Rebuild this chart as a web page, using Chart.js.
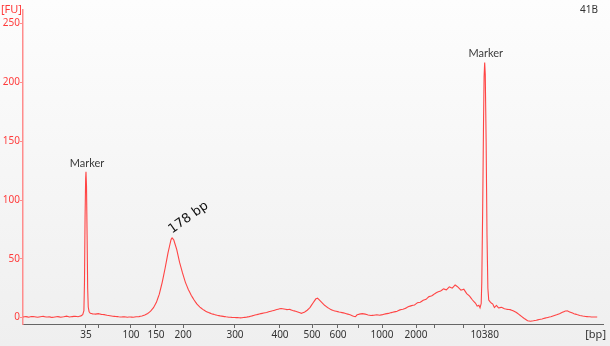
<!DOCTYPE html>
<html>
<head>
<meta charset="utf-8">
<script src="https://cdn.jsdelivr.net/npm/chart.js@4/dist/chart.umd.min.js"></script>
<style>
html, body { margin: 0; padding: 0; background: #f3f3f3; }
</style>
</head>
<body>
<canvas id="graph_electropherogram" width="610" height="346"></canvas>
<script>
// sample 41B, migration time [s] vs fluorescence [FU]
var trace = [
	[30, 0.6], [30.5, 0.9], [31, 0.4], [31.5, 1.0], [32, 0.7], [32.5, 0.3], [33, 0.8], [33.5, 1.1],
	[34, 0.5], [34.5, 0.7], [35, 0.2], [35.5, 0.6], [36, 0.9], [36.5, 0.4], [37, 0.8], [37.5, 1.3],
	[38, 0.6], [38.5, 0.9], [39, 1.2], [39.5, 0.8], [40, 1.5], [40.3, 2.5],
	// lower marker
	[40.5, 6], [40.6, 30], [40.7, 85], [40.8, 118], [40.86, 124], [40.95, 112], [41.05, 70],
	[41.15, 25], [41.25, 9], [41.4, 5], [41.6, 3.8],
	[42, 3.2], [42.5, 3.0], [43, 3.4], [43.5, 2.8], [44, 2.6], [44.5, 2.0], [45, 1.6], [45.5, 1.2],
	[46, 1.0], [46.5, 0.7], [47, 0.5], [47.5, 0.8], [48, 0.4], [48.5, 0.6], [49, 0.3], [49.5, 0.7],
	[50, 0.9], [50.5, 1.4], [51, 2.2], [51.5, 3.5], [52, 5.5], [52.5, 8.5], [53, 13], [53.5, 20],
	// library peak
	[54, 30], [54.5, 42], [55, 55], [55.5, 66], [55.7, 68], [56, 66], [56.5, 58], [57, 47],
	[57.5, 38], [58, 30], [58.5, 24], [59, 19], [59.5, 15], [60, 11.5], [60.5, 9], [61, 7],
	[61.5, 5.5], [62, 4.3], [62.5, 3.4], [63, 2.6], [63.5, 2.0], [64, 1.5], [64.5, 1.1], [65, 0.7],
	[65.5, 0.4], [66, 0.2], [66.5, 0.1], [67, 0.0], [67.5, -0.2], [68, 0.1], [68.5, 0.4], [69, 0.9],
	[69.5, 1.5], [70, 2.2], [70.5, 2.8], [71, 3.4], [71.5, 3.9], [72, 4.4], [72.5, 5.2], [73, 5.8],
	[73.5, 6.5], [74, 7.2], [74.5, 7.8], [75, 7.4], [75.5, 6.8], [76, 7.0], [76.5, 6.1], [77, 5.4],
	[77.5, 4.6], [78, 3.7], [78.5, 4.5], [79, 6.3], [79.5, 8.8], [80, 12.5], [80.5, 16], [80.8, 16.5],
	[81, 15.5], [81.5, 13], [82, 10.5], [82.5, 8.6], [83, 7.2], [83.5, 6.0], [84, 5.4], [84.5, 4.8],
	[85, 4.3], [85.5, 3.8], [86, 3.0], [86.5, 2.2], [87, 1.2], [87.3, 0.8], [87.6, 2.4], [88, 3.0],
	[88.5, 3.4], [89, 3.0], [89.5, 2.3], [90, 1.8], [90.5, 2.0], [91, 2.4], [91.5, 2.1], [92, 2.6],
	[92.5, 3.2], [93, 3.6], [93.5, 4.3], [94, 4.9], [94.5, 5.4], [95, 6.6], [95.5, 7.2], [96, 8.1],
	[96.5, 9.4], [97, 10.2], [97.5, 10.8], [98, 12.6], [98.5, 13.1], [99, 14.8], [99.5, 15.6], [100, 17.9],
	[100.5, 18.6], [101, 20.4], [101.5, 21.8], [102, 22.6], [102.5, 24.5], [103, 23.6], [103.5, 26.2],
	[104, 25.1], [104.5, 27.8], [105, 26.0], [105.5, 23.4], [106, 24.2], [106.5, 20.5], [107, 18.3],
	[107.5, 15.0], [108, 12.4], [108.3, 9.8], [108.6, 10.6], [108.8, 8.4], [109, 12],
	// upper marker
	[109.1, 30], [109.25, 90], [109.4, 165], [109.5, 205], [109.6, 217], [109.7, 207], [109.85, 150],
	[110, 70], [110.15, 25], [110.3, 15],
	[110.6, 13], [111, 11.5], [111.3, 8.5], [111.6, 10.6], [112, 8.2], [112.5, 8.8], [113, 7.6],
	[113.5, 7.0], [114, 6.8], [114.5, 5.8], [115, 4.6], [115.5, 2.8], [116, 0.9], [116.5, -1.0],
	[117, -2.6], [117.5, -3.0], [118, -2.7], [118.5, -2.2], [119, -1.6], [119.5, -1.2], [120, -0.4],
	[120.5, 0.2], [121, 0.8], [121.5, 1.6], [122, 2.4], [122.5, 3.4], [123, 4.6], [123.5, 5.6],
	[123.8, 5.8], [124, 5.4], [124.5, 4.4], [125, 3.4], [125.5, 2.6], [126, 1.9], [126.5, 1.4],
	[127, 1.0], [127.5, 0.8], [128, 0.6], [128.5, 0.5], [129, 0.5]
];

// ladder sizes and where they run
var ladderTimes = [40.86, 43.10, 48.62, 52.93, 57.59, 66.55, 74.31, 79.83, 84.31, 87.76, 91.90, 97.76, 101.03, 106.03, 109.6];
var ladderLabels = ['35', '', '100', '150', '200', '300', '400', '500', '600', '', '1000', '2000', '', '', '10380'];
var fuTicks = [0, 50, 100, 150, 200, 250];

// annotated peaks
var markerTimes = [40.86, 109.6];
var markerFU = [124, 217];
var samplePeakTime = 55.7;
var samplePeakFU = 68;
var samplePeakText = '178 bp';
var sampleName = '41B';

var jhwBackground = {
	id: 'jhwBackground',
	beforeDraw: function (chart) {
		var c = chart.ctx
		var g = c.createLinearGradient(0, 0, 0, chart.height)
		g.addColorStop(0, '#fdfdfd')
		g.addColorStop(1, '#efefef')
		c.save()
		c.fillStyle = g
		c.fillRect(0, 0, chart.width, chart.height)
		c.restore()
	}
};

var jhwPeakLabels = {
	id: 'jhwPeakLabels',
	afterDatasetsDraw: function (chart) {
		var c = chart.ctx
		var x = chart.scales.x
		var y = chart.scales.y
		c.save()

		// ladder markers
		c.font = '11px Lato'
		c.fillStyle = '#3a3a3a'
		c.textAlign = 'center'
		c.textBaseline = 'alphabetic'
		for (i = 0; i < markerTimes.length; i++) {
			c.fillText('Marker', x.getPixelForValue(markerTimes[i]) + 1, y.getPixelForValue(markerFU[i]) - 5)
		}

		// sample peak size, tilted
		c.save()
		c.translate(x.getPixelForValue(samplePeakTime), y.getPixelForValue(samplePeakFU) - 4)
		c.rotate(-0.62)
		c.font = '13px "DejaVu Sans"'
		c.fillStyle = '#111'
		c.textAlign = 'left'
		c.fillText(samplePeakText, 0, 0)
		c.restore()

		// axis units and sample name
		c.font = '11px "Noto Sans"'
		c.fillStyle = '#ff3b3b'
		c.textAlign = 'left'
		c.textBaseline = 'middle'
		c.fillText('[FU]', 1, 10)
		c.fillStyle = '#333'
		c.textAlign = 'right'
		c.fillText('[bp]', 606, 335)
		c.font = '10px "Noto Sans"'
		c.textAlign = 'center'
		c.fillText(sampleName, 589, 10)
		c.restore()
	}
};

window.jhwElectropherogram = new Chart(document.getElementById('graph_electropherogram'), {
	type: 'line',
	data: {
		datasets: [{
			data: trace.map(function (p) { return { x: p[0], y: p[1] } }),
			borderColor: '#ff4444',
			borderWidth: 1.1,
			pointRadius: 0,
			// a tiny tension keeps chart.js off its fast path, which smears the narrow marker peaks
			tension: 0.0001,
			fill: false
		}]
	},
	options: {
		responsive: false,
		animation: false,
		devicePixelRatio: 1,
		events: [],
		layout: { padding: { top: 10, right: 7, left: 0, bottom: 0 } },
		plugins: {
			legend: { display: false },
			tooltip: { enabled: false }
		},
		scales: {
			x: {
				type: 'linear',
				min: 30,
				max: 130,
				afterBuildTicks: function (s) {
					s.ticks = ladderTimes.map(function (v) { return { value: v } })
				},
				afterFit: function (s) { s.height = 22 },
				border: { display: true, color: '#666', width: 1 },
				grid: { display: true, drawOnChartArea: false, drawTicks: true, tickLength: 4, color: '#666' },
				ticks: {
					autoSkip: false,
					maxRotation: 0,
					padding: 1,
					color: '#333',
					font: { family: 'Noto Sans', size: 10 },
					callback: function (v, i) { return ladderLabels[i] }
				}
			},
			y: {
				min: -5.4,
				max: 261.6,
				afterBuildTicks: function (s) {
					s.ticks = fuTicks.map(function (v) { return { value: v } })
				},
				afterFit: function (s) { s.width = 23 },
				border: { display: true, color: '#ff8c8c', width: 1.5 },
				grid: { display: true, drawOnChartArea: false, drawTicks: true, tickLength: 3, color: '#ff8c8c' },
				ticks: {
					padding: 0,
					color: '#ff3b3b',
					font: { family: 'Noto Sans', size: 10 }
				}
			}
		}
	},
	plugins: [jhwBackground, jhwPeakLabels]
});
</script>
</body>
</html>
